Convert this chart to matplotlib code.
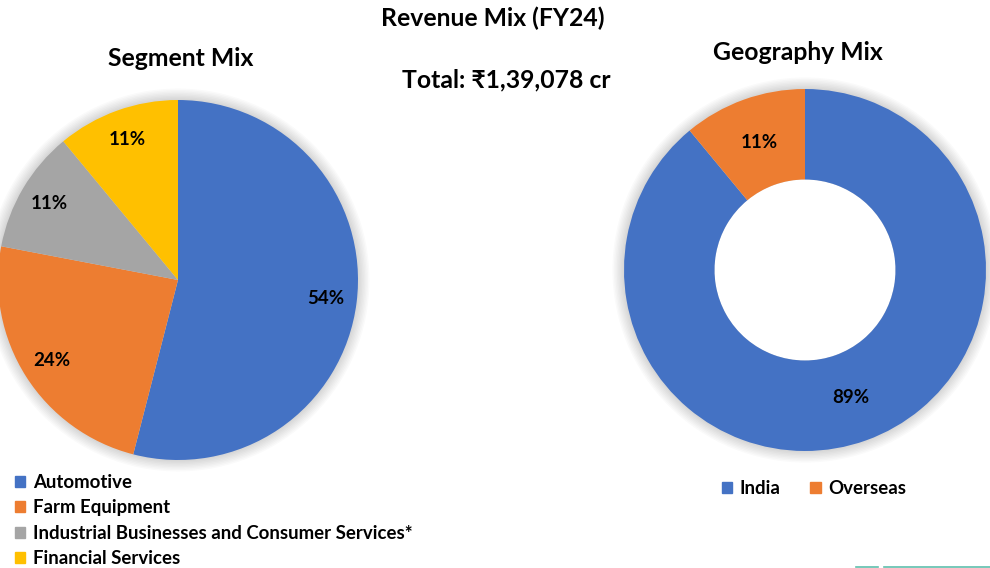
import matplotlib.pyplot as plt
from matplotlib.patches import Patch, Circle
from matplotlib.lines import Line2D

plt.rcParams['font.family'] = ['Lato', 'DejaVu Sans']
plt.rcParams['font.weight'] = 'bold'

segments = ['Automotive', 'Farm Equipment',
            'Industrial Businesses and Consumer Services*', 'Financial Services']
segment_share = [54, 24, 11, 11]
segment_colors = ['#4472C4', '#ED7D31', '#A5A5A5', '#FFC000']

regions = ['India', 'Overseas']
region_share = [89, 11]
region_colors = ['#4472C4', '#ED7D31']

W, H = 990, 568
fig = plt.figure(figsize=(W / 100, H / 100), dpi=100)


def px_axes(cx, cy, r):
    # axes box in pixel coords (from top-left) -> figure fraction
    return fig.add_axes([(cx - r) / W, 1 - (cy + r) / H, 2 * r / W, 2 * r / H])


def pct(v):
    return '%d%%' % round(v)


def soft_shadow(ax):
    # faint glow around the pie, like the slide's shadow effect
    for i in range(8):
        ax.add_patch(Circle((0, 0), 1.0 + 0.008 * (i + 1), color='#000000',
                            alpha=0.018, lw=0, zorder=0, clip_on=False))


# left pie
ax1 = px_axes(178, 280, 180)
soft_shadow(ax1)
w1, _, t1 = ax1.pie(segment_share, colors=segment_colors, startangle=90,
                    counterclock=False, autopct=pct, pctdistance=0.83,
                    wedgeprops=dict(linewidth=0, zorder=2),
                    textprops=dict(fontsize=13.5, fontweight='bold'))
ax1.set_xlim(-1, 1)
ax1.set_ylim(-1, 1)
ax1.axis('off')

# right donut
ax2 = px_axes(805, 270, 181)
soft_shadow(ax2)
ax2.add_patch(Circle((0, 0), 0.5, color='white', lw=0, zorder=1))
w2, _, t2 = ax2.pie(region_share, colors=region_colors, startangle=90,
                    counterclock=False, autopct=pct, pctdistance=0.75,
                    wedgeprops=dict(width=0.5, linewidth=0, zorder=2),
                    textprops=dict(fontsize=13.5, fontweight='bold'))
ax2.set_xlim(-1, 1)
ax2.set_ylim(-1, 1)
ax2.axis('off')

tsize = 17.8
fig.text(493 / W, 1 - 18 / H, 'Revenue Mix (FY24)', ha='center', va='center',
         fontsize=tsize, fontweight='bold')
fig.text(506 / W, 1 - 80 / H, 'Total: \u20b91,39,078 cr', ha='center', va='center',
         fontsize=tsize, fontweight='bold')
fig.text(181 / W, 1 - 59 / H, 'Segment Mix', ha='center', va='center',
         fontsize=tsize, fontweight='bold')
fig.text(798 / W, 1 - 52 / H, 'Geography Mix', ha='center', va='center',
         fontsize=tsize, fontweight='bold')

h1 = [Patch(color=c) for c in segment_colors]
fig.legend(h1, segments, loc='upper left', bbox_to_anchor=(15 / W, 1 - 474 / H),
           frameon=False, fontsize=13.4, handlelength=0.55, handleheight=0.55,
           handletextpad=0.4, labelspacing=0.45, borderpad=0, borderaxespad=0)

h2 = [Patch(color=c) for c in region_colors]
fig.legend(h2, regions, loc='upper left', bbox_to_anchor=(722 / W, 1 - 480 / H),
           frameon=False, fontsize=13.4, ncol=2, handlelength=0.55, handleheight=0.55,
           handletextpad=0.4, columnspacing=1.6, borderpad=0, borderaxespad=0)

# thin teal strip at bottom right edge of the slide
fig.add_artist(Line2D([856 / W, 878 / W], [1 - 566.5 / H] * 2, color='#5FBFAD', lw=1.2))
fig.add_artist(Line2D([884 / W, 1.0], [1 - 566.5 / H] * 2, color='#5FBFAD', lw=1.2))

fig.savefig('out.png', dpi=100)
